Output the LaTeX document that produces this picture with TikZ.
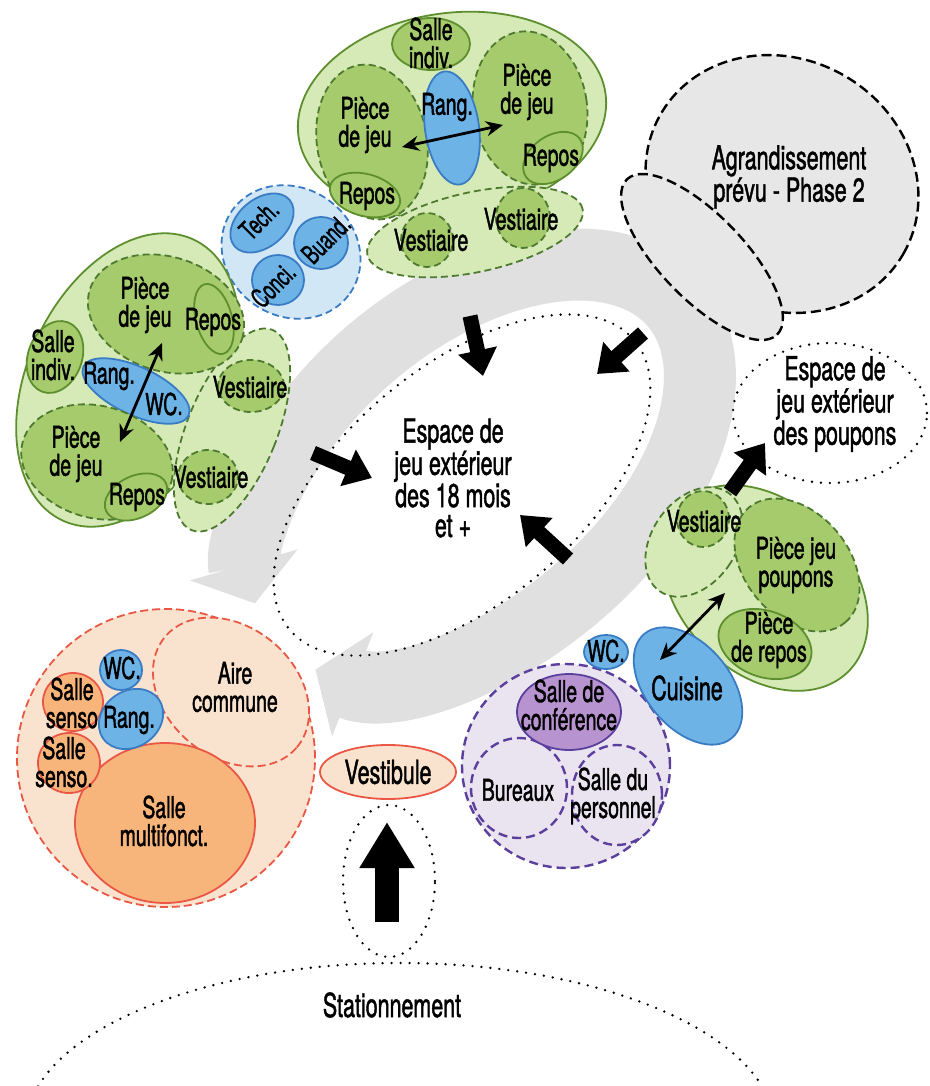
\documentclass[tikz,border=0pt]{standalone}
\usepackage{fontspec}
\setmainfont[FakeStretch=0.65,FakeBold=1.3]{TeX Gyre Heros}
\usetikzlibrary{shapes.geometric,arrows.meta}

\definecolor{gLight}{HTML}{D6EAB8}
\definecolor{gMid}{HTML}{A6CB6C}
\definecolor{gLine}{HTML}{5E8F2E}
\definecolor{gDash}{HTML}{4E7A30}
\definecolor{bMid}{HTML}{6DB3E6}
\definecolor{bLight}{HTML}{D2E7F6}
\definecolor{bLine}{HTML}{3A7CC4}
\definecolor{oLight}{HTML}{FAE3CE}
\definecolor{oMid}{HTML}{F7B57C}
\definecolor{oLine}{HTML}{EA5845}
\definecolor{pLight}{HTML}{EAE3F0}
\definecolor{pMid}{HTML}{B793CF}
\definecolor{pLine}{HTML}{5B3F9C}
\definecolor{phFill}{HTML}{E7E7E7}
\definecolor{bandGray}{HTML}{E0E0E0}

% ellipse node: name, x, y (down), x radius, y radius, rotation, style
\newcommand\ovalnode[7]{\node[#7, minimum width={2*(#4)}, minimum height={2*(#5)}, rotate=#6] (#1) at (#2,-#3) {};}
% text label: name, x, y (down), text
\newcommand\lbltext[4]{\node[lbl] (#1) at (#2,-#3) {#4};}
\newcommand\biglbl[4]{\node[lblL] (#1) at (#2,-#3) {#4};}

\tikzset{
  lbl/.style={align=center, inner sep=0pt, text=black, font=\fontsize{30}{28}\selectfont},
  lblS/.style={align=center, inner sep=0pt, text=black, font=\fontsize{27}{27}\selectfont},
  lblL/.style={align=center, inner sep=0pt, text=black, font=\fontsize{33}{30}\selectfont},
  oval/.style={ellipse, inner sep=0pt, outer sep=0pt, line width=1.8pt},
  gzone/.style={oval, fill=gLight, draw=gLine},
  groom/.style={oval, fill=gMid, draw=gDash, dash pattern=on 7pt off 4pt},
  gsmall/.style={oval, fill=gMid, draw=gLine},
  gvest/.style={oval, fill=gLight, draw=gDash, dash pattern=on 7pt off 4pt},
  broom/.style={oval, fill=bMid, draw=bLine},
  bzone/.style={oval, fill=bLight, draw=bLine, dash pattern=on 7pt off 4pt},
  ozone/.style={oval, fill=oLight, draw=oLine, dash pattern=on 8pt off 4pt},
  oroom/.style={oval, fill=oMid, draw=oLine},
  pzone/.style={oval, fill=pLight, draw=pLine, line width=2.4pt, dash pattern=on 9pt off 5pt},
  proom/.style={oval, fill=pMid, draw=pLine},
  phase/.style={oval, fill=phFill, draw=black, line width=2.4pt, dash pattern=on 10pt off 5pt},
  outdoor/.style={oval, draw=black, line width=2.6pt, line cap=round, dash pattern=on 0pt off 9pt},
  dbl/.style={line width=2.8pt, {Stealth[length=17pt,width=15pt]}-{Stealth[length=17pt,width=15pt]}},
  fat/.style={line width=15pt, -{Triangle[length=26pt,width=38pt]}},
}

\begin{document}
\begin{tikzpicture}[x=1pt,y=1pt]
\useasboundingbox (0,0) rectangle (929,-1086);
\fill[white] (0,0) rectangle (929,-1086);

% circulation band around the central play yard
\draw[line width=72pt, draw=bandGray,
      {Triangle[length=40pt,width=110pt]}-{Triangle[length=40pt,width=110pt]},
      rotate around={40:(475,-472)}]
  (475,-472) ++(198:262 and 158)
  arc[start angle=198, end angle=525, x radius=262, y radius=158];

% outdoor areas
\ovalnode{yard}{462}{485}{225}{118}{40}{outdoor}
\ovalnode{park}{400}{1130}{375}{167}{0}{outdoor}
\ovalnode{entry}{389}{881}{46}{76}{0}{outdoor}
\ovalnode{babyyard}{830}{413}{97}{70}{0}{outdoor}

% phase 2
\ovalnode{phA}{782}{184}{140}{125}{-30}{phase}
\ovalnode{phB}{702}{257}{108}{42}{-46}{phase}

% top green group
\ovalnode{topZone}{452}{115}{155}{102}{8}{gzone}
\ovalnode{topVest}{475}{232}{110}{40}{12}{gvest}
\ovalnode{topPJa}{372}{142}{55}{78}{10}{groom}
\ovalnode{topPJb}{530}{108}{57}{77}{8}{groom}
\ovalnode{topSI}{431}{44}{39}{26}{0}{gsmall}
\ovalnode{topRang}{452}{128}{27}{57}{8}{broom}
\ovalnode{topRepA}{365}{195}{36}{21}{-15}{gsmall}
\ovalnode{topRepB}{553}{158}{33}{22}{35}{gsmall}
\ovalnode{topVa}{427}{240}{26}{27}{0}{groom}
\ovalnode{topVb}{523}{218}{27}{30}{0}{groom}

% services group
\ovalnode{svcZone}{291}{252}{72}{64}{-35}{bzone}
\ovalnode{svcTech}{262}{223}{36}{24}{40}{broom}
\ovalnode{svcBuand}{321}{243}{27}{26}{0}{broom}
\ovalnode{svcConci}{278}{280}{26}{25}{0}{broom}

% left green group
\ovalnode{lZone}{128}{380}{100}{155}{-25}{gzone}
\ovalnode{lVest}{232}{430}{45}{108}{-22}{gvest}
\ovalnode{lPJa}{166}{314}{80}{57}{-18}{groom}
\ovalnode{lRep}{214}{319}{18}{36}{15}{gsmall}
\ovalnode{lSI}{55}{357}{27}{37}{-20}{gsmall}
\ovalnode{lRang}{136}{391}{58}{24}{-25}{broom}
\ovalnode{lPJb}{97}{462}{77}{56}{-15}{groom}
\ovalnode{lRepB}{136}{497}{33}{21}{25}{gsmall}
\ovalnode{lVa}{251}{386}{33}{26}{0}{groom}
\ovalnode{lVb}{208}{477}{30}{27}{0}{groom}

% common areas group
\ovalnode{oZone}{166}{758}{149}{149}{0}{ozone}
\ovalnode{oAire}{231}{692}{86}{65}{-40}{ozone}
\ovalnode{oMulti}{165}{823}{90}{80}{0}{oroom}
\ovalnode{oSS1}{73}{702}{30}{29}{0}{oroom}
\ovalnode{oSS2}{69}{763}{31}{30}{0}{oroom}
\ovalnode{oWC}{121}{670}{21}{20}{0}{broom}
\ovalnode{oRang}{131}{719}{34}{28}{35}{broom}
\ovalnode{vestibule}{388}{772}{68}{27}{0}{oroom, fill=oLight}

% staff group
\ovalnode{pZone}{566}{766}{104}{102}{0}{pzone}
\ovalnode{pBur}{519}{788}{48}{50}{0}{pzone}
\ovalnode{pPers}{617}{795}{45}{50}{0}{pzone}
\ovalnode{pConf}{569}{712}{52}{38}{0}{proom}

% infants group
\ovalnode{iZone}{765}{588}{118}{85}{-45}{gzone}
\ovalnode{iVest}{694}{542}{42}{60}{-35}{gvest}
\ovalnode{iVa}{703}{519}{26}{28}{0}{groom}
\ovalnode{iPJ}{797}{565}{75}{52}{-50}{groom}
\ovalnode{iRep}{765}{644}{48}{33}{-20}{gsmall}
\ovalnode{kitchen}{688}{686}{68}{42}{-50}{broom}
\ovalnode{kWC}{606}{652}{22}{17}{0}{broom}

% labels
\biglbl{tPh}{789}{177}{Agrandissement\\prévu - Phase 2}
\biglbl{tYard}{453}{478}{Espace de\\jeu extérieur\\des 18 mois\\et +}
\biglbl{tBaby}{835}{404}{Espace de\\jeu extérieur\\des poupons}
\biglbl{tPark}{392}{1005}{Stationnement}
\biglbl{tVestibule}{388}{772}{Vestibule}
\biglbl{tKitchen}{687}{688}{Cuisine}

\lbltext{tTopSI}{431}{43}{Salle\\indiv.}
\lbltext{tTopPJa}{365}{125}{Pièce\\de jeu}
\lbltext{tTopRang}{447}{107}{Rang.}
\lbltext{tTopPJb}{527}{92}{Pièce\\de jeu}
\lbltext{tTopRepB}{551}{158}{Repos}
\lbltext{tTopRepA}{367}{196}{Repos}
\lbltext{tTopVa}{431}{240}{Vestiaire}
\lbltext{tTopVb}{521}{219}{Vestiaire}

\node[lblS, rotate=45] (tTech) at (259,-220) {Tech.};
\node[lblS, rotate=45] (tConci) at (273,-285) {Conci.};
\node[lblS, rotate=45] (tBuand) at (326,-239) {Buand.};

\lbltext{tLPJa}{145}{305}{Pièce\\de jeu}
\lbltext{tLRep}{213}{322}{Repos}
\lbltext{tLSI}{53}{355}{Salle\\indiv.}
\lbltext{tLRang}{109}{376}{Rang.}
\lbltext{tLWC}{164}{404}{WC.}
\lbltext{tLPJb}{76}{454}{Pièce\\de jeu}
\lbltext{tLRepB}{137}{497}{Repos}
\lbltext{tLVa}{250}{387}{Vestiaire}
\lbltext{tLVb}{211}{477}{Vestiaire}

\lbltext{tSS1}{72}{703}{Salle\\senso}
\lbltext{tSS2}{64}{762}{Salle\\senso.}
\lbltext{tOWC}{122}{668}{WC.}
\lbltext{tORang}{129}{720}{Rang.}
\lbltext{tAire}{235}{687}{Aire\\commune}
\lbltext{tMulti}{164}{821}{Salle\\multifonct.}

\lbltext{tConf}{569}{705}{Salle de\\conférence}
\lbltext{tBur}{518}{790}{Bureaux}
\lbltext{tPers}{613}{796}{Salle du\\personnel}

\lbltext{tIVest}{704}{521}{Vestiaire}
\lbltext{tIPJ}{796}{565}{Pièce jeu\\poupons}
\lbltext{tIRep}{769}{640}{Pièce\\de repos}
\lbltext{tKWC}{606}{651}{WC.}

% internal links
\coordinate (dTa) at (402,-147); \coordinate (dTb) at (503,-125);
\draw[dbl] (dTa) -- (dTb);
\coordinate (dLa) at (162,-343); \coordinate (dLb) at (120,-442);
\draw[dbl] (dLa) -- (dLb);
\coordinate (dIa) at (725,-593); \coordinate (dIb) at (660,-660);
\draw[dbl] (dIa) -- (dIb);

% access to the play yards
\coordinate (aTs) at (470,-316); \coordinate (aTe) at (483,-376);
\draw[fat] (aTs) -- (aTe);
\coordinate (aRs) at (643,-333); \coordinate (aRe) at (597,-374);
\draw[fat] (aRs) -- (aRe);
\coordinate (aLs) at (313,-453); \coordinate (aLe) at (372,-478);
\draw[fat] (aLs) -- (aLe);
\coordinate (aBs) at (568,-559); \coordinate (aBe) at (520,-515);
\draw[fat] (aBs) -- (aBe);
\coordinate (aPs) at (730,-492); \coordinate (aPe) at (765,-443);
\draw[fat] (aPs) -- (aPe);

% main entrance
\coordinate (entS) at (387,-922); \coordinate (entE) at (387,-822);
\draw[line width=24pt, -{Triangle[length=46pt,width=52pt]}] (entS) -- (entE);
\end{tikzpicture}
\end{document}
